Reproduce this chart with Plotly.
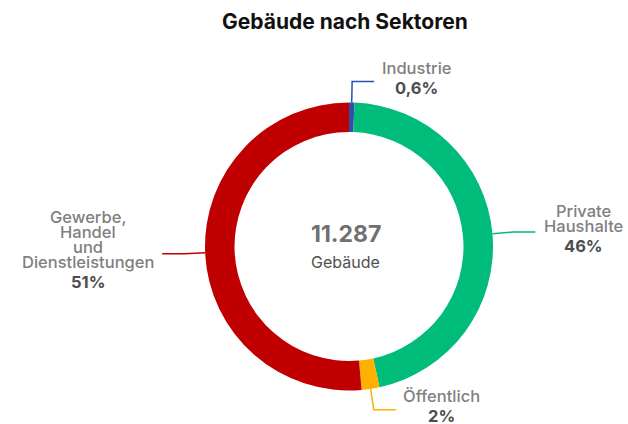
import math
import plotly.graph_objects as go

# Data
labels = ["Industrie", "Private\nHaushalte", "Öffentlich", "Gewerbe,\nHandel\nund\nDienstleistungen"]
values = [68, 5192, 226, 5801]
pct_labels = ["0,6%", "46%", "2%", "51%"]
colors = ["#2E4FAE", "#00BC7B", "#FFB000", "#C00000"]
center_value = "11.287"
center_unit = "Gebäude"
title_text = "Gebäude nach Sektoren"

W, H = 628, 424
cx, cy, R = 349, 246.5, 144
FS = 16.5

fig = go.Figure(go.Pie(
    values=values,
    labels=[l.replace("\n", " ") for l in labels],
    marker=dict(colors=colors, line=dict(width=0)),
    hole=0.795,
    sort=False,
    direction="clockwise",
    rotation=0,
    textinfo="none",
    hoverinfo="skip",
    showlegend=False,
    domain=dict(x=[(cx - R) / W, (cx + R) / W], y=[(H - cy - R) / H, (H - cy + R) / H]),
))

def px2paper(x, y):
    return x / W, 1 - y / H

def text_width(t, size):
    w = 0.0
    for ch in t:
        if ch in "iltfrj,.I":
            w += 0.30
        elif ch.isupper() or ch in "%mw":
            w += 0.70
        else:
            w += 0.57
    return w * size

total = sum(values)
cum = 0
shapes = []
annotations = []
for name, v, pct, col in zip(labels, values, pct_labels, colors):
    mid = (cum + v / 2) / total * 2 * math.pi
    cum += v
    s, c = math.sin(mid), math.cos(mid)
    x0, y0 = cx + R * s, cy - R * c
    x1, y1 = cx + (R + 21) * s, cy - (R + 21) * c
    side = 1 if s > 0 else -1
    x2 = x1 + side * 22
    pts = [px2paper(x0, y0), px2paper(x1, y1), px2paper(x2, y1)]
    path = "M {} {} L {} {} L {} {}".format(*[v2 for p in pts for v2 in p])
    shapes.append(dict(type="path", path=path, xref="paper", yref="paper",
                       line=dict(color=col, width=1.5)))
    lines = name.split("\n")
    ys = [i * 15 for i in range(len(lines))] + [(len(lines) - 1) * 15 + 20]
    mid_off = (ys[0] + ys[-1]) / 2
    block_center = y1 - 4
    bw = max(text_width(t, FS) for t in lines)
    lx = x2 + side * (9 + bw / 2)
    for i, t in enumerate(lines + [pct]):
        is_pct = i == len(lines)
        ty = block_center + ys[i] - mid_off
        ax, ay = px2paper(lx, ty)
        annotations.append(dict(
            x=ax, y=ay, xref="paper", yref="paper", showarrow=False,
            text=t,
            xanchor="center", yanchor="middle",
            font=dict(family="Inter", size=FS, weight=700 if is_pct else 500,
                      color="#4d4d4d" if is_pct else "#808080"),
        ))

# Center texts
ax, ay = px2paper(346, 234)
annotations.append(dict(x=ax, y=ay, xref="paper", yref="paper", showarrow=False,
                        text=center_value, xanchor="center", yanchor="middle",
                        font=dict(family="Inter", size=23, weight=700, color="#707070")))
ax, ay = px2paper(345, 262)
annotations.append(dict(x=ax, y=ay, xref="paper", yref="paper", showarrow=False,
                        text=center_unit, xanchor="center", yanchor="middle",
                        font=dict(family="Inter", size=16, weight=400, color="#505050")))
ax, ay = px2paper(345, 21)
annotations.append(dict(x=ax, y=ay, xref="paper", yref="paper", showarrow=False,
                        text=title_text, xanchor="center", yanchor="middle",
                        font=dict(family="Inter", size=21, weight=700, color="#111111")))

fig.update_layout(
    width=W, height=H,
    margin=dict(l=0, r=0, t=0, b=0),
    paper_bgcolor="white", plot_bgcolor="white",
    shapes=shapes, annotations=annotations,
)
fig.write_html("out.html", config={"displayModeBar": False},
               post_script="document.body.style.margin='0';")
